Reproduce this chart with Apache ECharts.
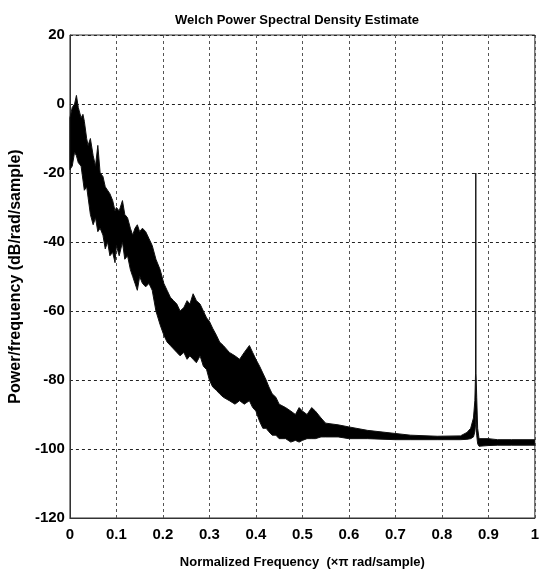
<!DOCTYPE html>
<html>
<head>
<meta charset="utf-8">
<script src="https://cdn.jsdelivr.net/npm/echarts@6/dist/echarts.min.js"></script>
<style>
  html, body { margin: 0; padding: 0; background: #fff; }
  #main { width: 542px; height: 575px; }
</style>
</head>
<body>
<div id="main"></div>
<script>
// normalized frequency (x pi rad/sample)
var freq = [
  0.000, 0.005, 0.010, 0.014, 0.018, 0.024, 0.028, 0.031, 0.036, 0.039,
  0.044, 0.050, 0.055, 0.060, 0.065, 0.071, 0.076, 0.081, 0.086, 0.092,
  0.097, 0.100, 0.106, 0.113, 0.118, 0.124, 0.130, 0.135, 0.140, 0.145,
  0.150, 0.156, 0.163, 0.170, 0.177, 0.185, 0.194, 0.202, 0.209, 0.216,
  0.223, 0.230, 0.237, 0.245, 0.252, 0.258, 0.265, 0.272, 0.280, 0.287,
  0.294, 0.300, 0.307, 0.315, 0.322, 0.330, 0.343, 0.355, 0.365, 0.375,
  0.386, 0.393, 0.400, 0.408, 0.415, 0.422, 0.428, 0.435, 0.443, 0.450,
  0.464, 0.475, 0.485, 0.493, 0.500, 0.510, 0.520, 0.528, 0.540, 0.550,
  0.577, 0.600, 0.640, 0.700, 0.733, 0.790, 0.840, 0.854, 0.862, 0.868,
  0.871, 0.8725, 0.873, 0.8735, 0.875, 0.877, 0.880, 0.900, 0.920, 0.950,
  1.000
];
// upper edge of the PSD trace (dB/rad/sample)
var psdHigh = [
  -4, -1, 0, 2.5, -1, -4, -3, -5, -10, -12,
  -10, -15, -18, -12, -20, -21, -24, -25, -26, -28,
  -31, -30, -31, -28, -32, -33, -36, -38, -36, -35,
  -37, -36, -37, -39, -41, -45, -48, -52, -54, -56,
  -57, -58, -60, -59, -57, -58, -55, -57, -58, -60,
  -62, -63, -65, -67, -69, -70, -72, -73, -74, -72,
  -70, -72, -74, -76, -78, -80, -82, -84, -85, -87,
  -88, -89, -90, -88, -89, -90, -88, -89, -91, -92.5,
  -93, -93.6, -94.6, -95.5, -96, -96.3, -96.2, -95.2, -94, -91,
  -86, -78, -20, -78, -85, -94, -97, -97, -97.3, -97.3,
  -97.3
];
// lower edge of the PSD trace (dB/rad/sample)
var psdLow = [
  -19, -18, -14, -15, -17, -18, -22, -25, -24, -27,
  -32, -35, -33, -37, -36, -38, -42, -40, -44, -43,
  -46, -41, -44, -40, -45, -44, -48, -50, -52, -54,
  -50, -52, -53, -52, -54, -60, -64, -67, -69, -70,
  -71, -72, -73, -72, -74, -73, -74, -75, -73, -76,
  -77, -80, -82, -83, -84, -85, -86, -87, -86, -87,
  -86, -88, -89, -92, -94, -94, -95, -96, -96, -97,
  -97, -98, -97.5, -98, -97.5, -97, -97, -97, -96.5, -96.5,
  -96.5, -97, -97, -97.3, -97.3, -97.3, -97.3, -97.2, -97, -96.5,
  -95, -93, -90, -92, -96, -98.5, -99.2, -99, -98.9, -98.9,
  -98.9
];
var yTicks = [-120, -100, -80, -60, -40, -20, 0, 20];

var font = "'Liberation Sans', Arial, sans-serif";

var bandData = freq.map(function (f, i) { return [f, psdHigh[i], psdLow[i]]; });

// whole trace as one polygon: along the upper edge, then back along the lower edge
function renderBand(params, api) {
  if (params.dataIndex !== 0) return null;
  var pts = [];
  for (var i = 0; i < freq.length; i++) pts.push(api.coord([freq[i], psdHigh[i]]));
  for (var j = freq.length - 1; j >= 0; j--) pts.push(api.coord([freq[j], psdLow[j]]));
  return {
    type: 'polygon',
    shape: { points: pts },
    style: { fill: '#000', stroke: '#111', lineWidth: 1, lineJoin: 'round' }
  };
}

var myChart = echarts.init(document.getElementById('main'));

var option = {
  animation: false,
  backgroundColor: '#fff',
  title: {
    text: 'Welch Power Spectral Density Estimate',
    left: 292,
    top: 9,
    textAlign: 'center',
    textStyle: { fontFamily: font, fontWeight: 'bold', fontSize: 13, color: '#000' }
  },
  grid: {
    left: 68, right: 4, top: 35, bottom: 57,
    show: true, borderColor: '#333', borderWidth: 1
  },
  xAxis: {
    type: 'value',
    min: 0, max: 1, interval: 0.1,
    name: 'Normalized Frequency  (\u00d7\u03c0 rad/sample)',
    nameLocation: 'middle',
    nameGap: 38,
    nameTextStyle: { fontFamily: font, fontWeight: 'bold', fontSize: 13, color: '#000' },
    axisLine: { onZero: false, lineStyle: { color: '#333' } },
    axisTick: { show: false },
    axisLabel: { margin: 9, fontFamily: font, fontWeight: 'bold', fontSize: 15, color: '#000' },
    splitLine: { show: true, lineStyle: { color: '#555', type: [3, 3], width: 1 } }
  },
  yAxis: {
    type: 'value',
    min: yTicks[0], max: yTicks[yTicks.length - 1], interval: 20,
    name: 'Power/frequency (dB/rad/sample)',
    nameLocation: 'middle',
    nameGap: 36,
    nameTextStyle: { fontFamily: font, fontWeight: 'bold', fontSize: 16, color: '#000' },
    axisLine: { show: true, onZero: false, lineStyle: { color: '#333' } },
    axisTick: { show: false },
    axisLabel: { margin: 5, fontFamily: font, fontWeight: 'bold', fontSize: 15, color: '#000' },
    splitLine: { show: true, lineStyle: { color: '#222', type: [3, 3], width: 1 } }
  },
  series: [
    {
      name: 'PSD',
      type: 'custom',
      renderItem: renderBand,
      data: bandData,
      encode: { x: 0, y: [1, 2] },
      clip: true
    }
  ]
};

myChart.setOption(option);
</script>
</body>
</html>
